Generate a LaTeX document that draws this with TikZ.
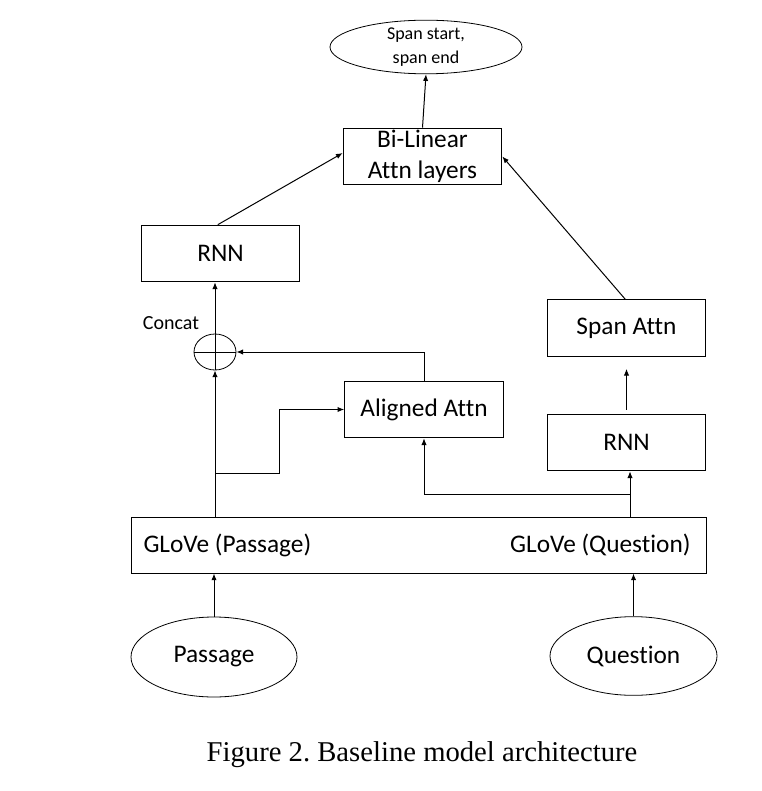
\documentclass[tikz,border=0pt]{standalone}
\usepackage{fontspec}
\setmainfont{Carlito}[Ligatures=NoCommon]
\newfontfamily\capfont{Liberation Serif}
\usetikzlibrary{arrows.meta,shapes.geometric}
\frenchspacing

\begin{document}
\begin{tikzpicture}[x=0.75pt,y=-0.75pt,line width=0.75pt,
  arr/.style={-{Latex[length=5pt,width=4pt]}},
  blk/.style={draw,rectangle,inner sep=0pt,minimum width=119pt,minimum height=42.5pt,
    font=\fontsize{19}{23}\selectfont,align=center},
  oval/.style={draw,ellipse,inner sep=0pt,line width=0.6pt},
  lbl/.style={inner sep=0pt,font=\fontsize{19}{23}\selectfont}]
\useasboundingbox (0,0) rectangle (762,791);
% output and attention layers
\node[oval,minimum width=144pt,minimum height=33.75pt,align=center,
  font=\fontsize{13.5}{17.5}\selectfont] (out) at (426,47) {Span start,\\span end};
\node[blk] (bilin) at (422.5,156.5) {Bi-Linear\\Attn layers};
\node[blk] (rnnp) at (220.5,253.5) {RNN};
\node[blk] (span) at (626.5,328) {Span Attn};
\node[blk] (align) at (424,409.5) {Aligned Attn};
\node[blk] (rnnq) at (626.5,442.5) {RNN};
% concat
\node[oval,minimum width=31.5pt,minimum height=27pt] (cat) at (215,352) {};
\draw[line width=0.6pt] (cat.west) -- (cat.east) (cat.north) -- (cat.south);
\node[inner sep=0pt,font=\fontsize{15}{18}\selectfont] (catlbl) at (171,323) {Concat};
% embeddings
\node[draw,rectangle,inner sep=0pt,minimum width=431.25pt,minimum height=42pt] (glove) at (418.5,545) {};
\node[lbl,anchor=west] (glovep) at (143,545) {GLoVe (Passage)};
\node[lbl,anchor=east] (gloveq) at (691,545) {GLoVe (Question)};
% inputs
\node[oval,minimum width=124.5pt,minimum height=60pt,font=\fontsize{19}{23}\selectfont] (passage) at (214,657) {Passage};
\node[oval,minimum width=125.25pt,minimum height=59pt,font=\fontsize{19}{23}\selectfont] (question) at (633.5,656) {Question};
% caption
\node[inner sep=0pt,font=\capfont\fontsize{21.5}{25}\selectfont] (caption) at (422,755) {Figure 2. Baseline model architecture};

\coordinate (ptop) at (215,517);
\coordinate (pbr) at (215,473);
\coordinate (qtop) at (630,517);
\coordinate (qbr) at (630,494);

\draw[arr] (passage.north) -- (passage.north |- glove.south);
\draw[arr] (question.north) -- (question.north |- glove.south);
\draw[arr] (ptop) -- (cat.south);
\draw[arr] (pbr) -- ++(64,0) |- (align.west);
\draw[arr] (qtop) -- (qtop |- rnnq.south);
\draw[arr] (qbr) -| (align.south);
\draw[arr,shorten <=3pt,shorten >=9pt] (rnnq.north) -- (span.south);
\draw[arr] (align.north) |- (cat.east);
\draw[arr] (cat.north) -- (cat.north |- rnnp.south);
\draw[arr] ([xshift=-2pt]rnnp.north) -- ([yshift=2.6pt]bilin.west);
\draw[arr] ([xshift=-1pt]span.north) -- (bilin.east);
\draw[arr] (bilin.north) -- (out.south);
\end{tikzpicture}
\end{document}
